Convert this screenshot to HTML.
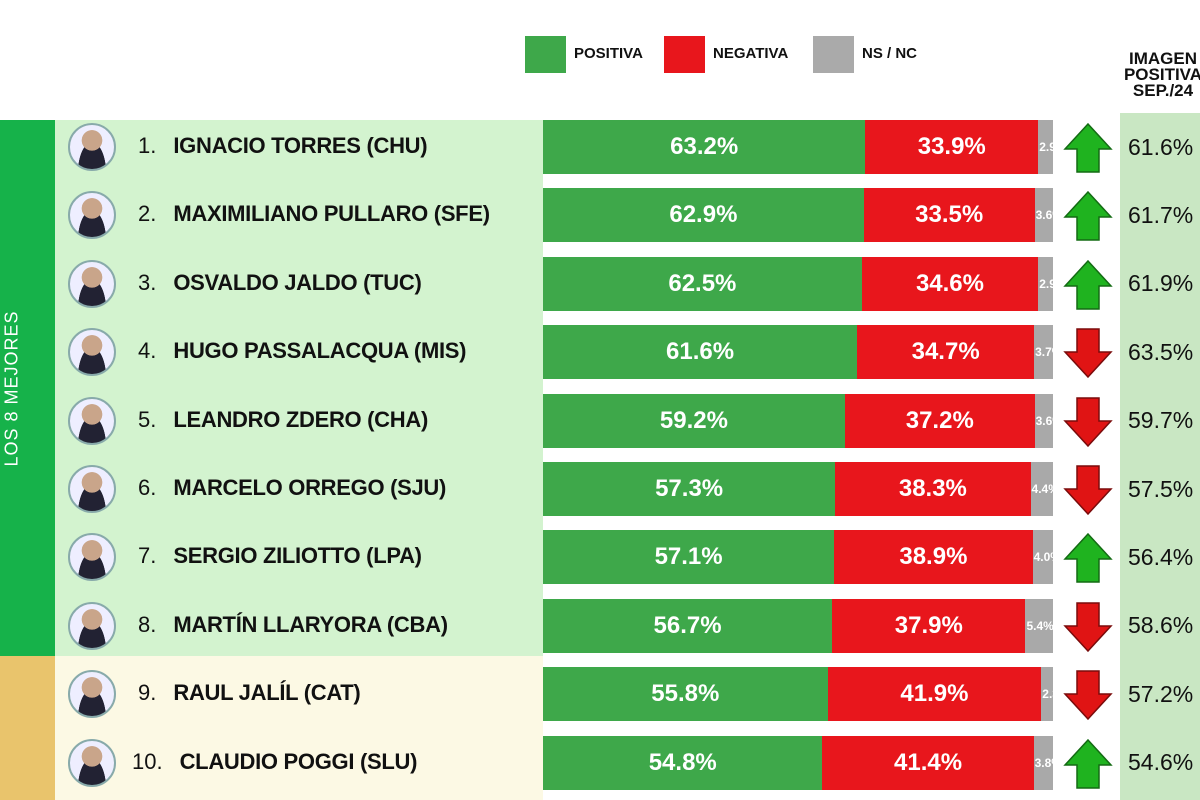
<!DOCTYPE html>
<html><head><meta charset="utf-8"><style>
*{margin:0;padding:0;box-sizing:border-box}
body{width:1200px;height:800px;overflow:hidden;background:#fff;font-family:"Liberation Sans",sans-serif;position:relative}
.a{position:absolute}
.lg{top:36px;width:41px;height:37px}
.lt{top:45px;font-weight:bold;font-size:15px;color:#111}
.row{position:absolute;left:543px;height:54px;width:510px;display:flex}
.g{background:#3ea84a;color:#fff;font-weight:bold;font-size:24px;display:flex;align-items:center;justify-content:center}
.r{background:#e8161c;color:#fff;font-weight:bold;font-size:24px;display:flex;align-items:center;justify-content:center}
.n{background:#a9a9a9;color:#fff;font-weight:bold;font-size:12px;display:flex;align-items:center;overflow:hidden;white-space:nowrap;padding-left:1px}
.nm{position:absolute;left:138px;font-size:22px;color:#111;height:54px;display:flex;align-items:center;white-space:nowrap}
.nm b{margin-left:17px;letter-spacing:-0.3px}
.av{position:absolute;left:68px;width:48px;height:48px;border-radius:50%;border:2px solid #8aa;background:radial-gradient(circle at 50% 35%,#c9a58a 0 28%,transparent 29%),radial-gradient(ellipse at 50% 110%,#223 0 45%,#eef 46%)}
.pv{position:absolute;left:1128px;font-size:23px;color:#111;height:54px;display:flex;align-items:center}
.ar{position:absolute;left:1063px}
</style></head><body>
<div class="a lg" style="left:525px;background:#3ea84a"></div><div class="a lt" style="left:574px">POSITIVA</div>
<div class="a lg" style="left:664px;background:#e8161c"></div><div class="a lt" style="left:713px">NEGATIVA</div>
<div class="a lg" style="left:813px;background:#aaa"></div><div class="a lt" style="left:862px">NS / NC</div>
<div class="a" style="left:1108px;top:51px;width:110px;text-align:center;font-weight:bold;font-size:17px;line-height:16px;color:#111">IMAGEN<br>POSITIVA<br>SEP./24</div>
<div class="a" style="left:0;top:120px;width:55px;height:536px;background:#16b24a"></div>
<div class="a" style="left:0;top:656px;width:55px;height:144px;background:#e9c46c"></div>
<div class="a" style="left:55px;top:120px;width:488px;height:536px;background:#d3f3cf"></div>
<div class="a" style="left:55px;top:656px;width:488px;height:144px;background:#fcf9e4"></div>
<div class="a" style="left:1120px;top:113px;width:80px;height:687px;background:#c9e7c3"></div>
<div class="a" style="left:-88px;top:378px;width:200px;transform:rotate(-90deg);color:#fff;font-size:18px;letter-spacing:1px;text-align:center;white-space:nowrap">LOS 8 MEJORES</div>
<div id="rows"></div>
<script>
var d=[["IGNACIO TORRES (CHU)",63.2,33.9,2.9,1,61.6],["MAXIMILIANO PULLARO (SFE)",62.9,33.5,3.6,1,61.7],["OSVALDO JALDO (TUC)",62.5,34.6,2.9,1,61.9],["HUGO PASSALACQUA (MIS)",61.6,34.7,3.7,0,63.5],["LEANDRO ZDERO (CHA)",59.2,37.2,3.6,0,59.7],["MARCELO ORREGO (SJU)",57.3,38.3,4.4,0,57.5],["SERGIO ZILIOTTO (LPA)",57.1,38.9,4.0,1,56.4],["MARTÍN LLARYORA (CBA)",56.7,37.9,5.4,0,58.6],["RAUL JALÍL (CAT)",55.8,41.9,2.3,0,57.2],["CLAUDIO POGGI (SLU)",54.8,41.4,3.8,1,54.6]];
var h="";
d.forEach(function(x,i){var y=120+i*68.4;var t=x[1]+x[2]+x[3];
h+='<div class="av" style="top:'+(y+3)+'px"></div>';
h+='<div class="nm" style="top:'+(y-1)+'px;'+(i==9?'left:132px':'')+'">'+(i+1)+'.<b>'+x[0]+'</b></div>';
h+='<div class="row" style="top:'+y+'px"><div class="g" style="width:'+(x[1]/t*100)+'%">'+x[1].toFixed(1)+'%</div><div class="r" style="width:'+(x[2]/t*100)+'%">'+x[2].toFixed(1)+'%</div><div class="n" style="width:'+(x[3]/t*100)+'%">'+x[3].toFixed(1)+'%</div></div>';
var up=x[4];
h+='<svg class="ar" style="top:'+(y+2)+'px" width="50" height="52" viewBox="0 0 50 52">'+(up?'<polygon points="25,2 48,27 36,27 36,50 14,50 14,27 2,27" fill="#1fb31f" stroke="#136b13" stroke-width="1.5"/>':'<polygon points="25,50 48,25 36,25 36,2 14,2 14,25 2,25" fill="#e01414" stroke="#7a0b0b" stroke-width="1.5"/>')+'</svg>';
h+='<div class="pv" style="top:'+y+'px">'+x[5].toFixed(1)+'%</div>';});
document.getElementById("rows").innerHTML=h;
</script>
</body></html>
